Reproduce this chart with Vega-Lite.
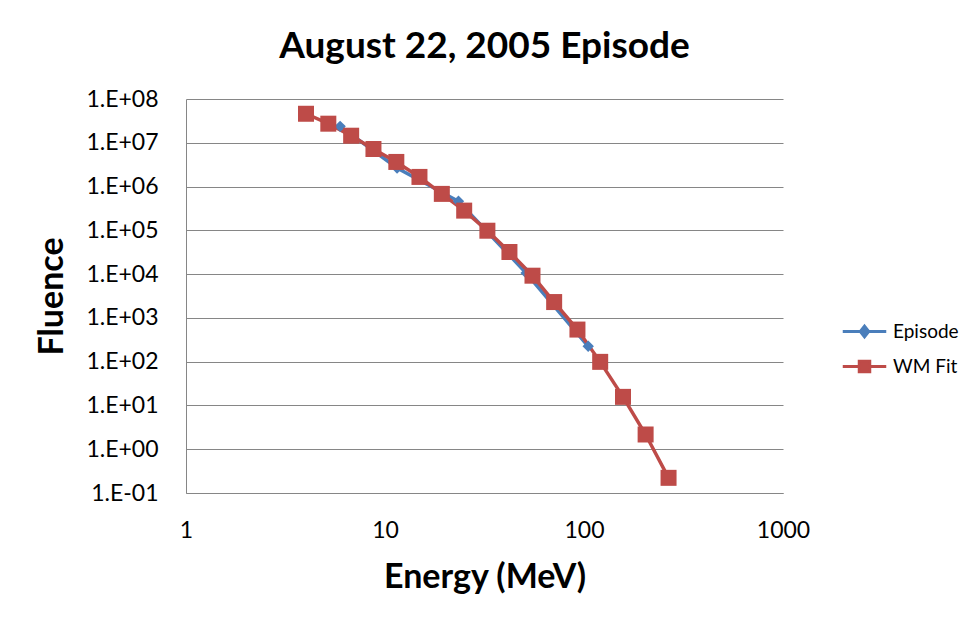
{
  "$schema": "https://vega.github.io/schema/vega-lite/v6.json",
  "width": 597,
  "height": 394,
  "autosize": {"type": "none"},
  "padding": {"left": 186, "top": 99, "right": 194, "bottom": 134},
  "background": "white",
  "title": {
    "text": "August 22, 2005 Episode",
    "font": "Lato",
    "fontSize": 37,
    "fontWeight": "bold",
    "color": "black",
    "anchor": "middle",
    "offset": 22
  },
  "config": {
    "view": {"stroke": null},
    "font": "Lato"
  },
  "data": {
    "values": [
      {"series": "Episode", "energy": 5.95, "fluence": 23700000},
      {"series": "Episode", "energy": 11.5, "fluence": 2660000},
      {"series": "Episode", "energy": 23.4, "fluence": 460000},
      {"series": "Episode", "energy": 51.2, "fluence": 10600},
      {"series": "Episode", "energy": 105, "fluence": 225},
      {"series": "WM Fit", "energy": 4.01, "fluence": 46000000},
      {"series": "WM Fit", "energy": 5.19, "fluence": 27300000},
      {"series": "WM Fit", "energy": 6.76, "fluence": 14500000},
      {"series": "WM Fit", "energy": 8.75, "fluence": 7200000},
      {"series": "WM Fit", "energy": 11.4, "fluence": 3650000},
      {"series": "WM Fit", "energy": 14.9, "fluence": 1660000},
      {"series": "WM Fit", "energy": 19.3, "fluence": 680000},
      {"series": "WM Fit", "energy": 25.0, "fluence": 282000},
      {"series": "WM Fit", "energy": 32.7, "fluence": 98000},
      {"series": "WM Fit", "energy": 42.2, "fluence": 32000},
      {"series": "WM Fit", "energy": 55.1, "fluence": 9200},
      {"series": "WM Fit", "energy": 70.8, "fluence": 2300},
      {"series": "WM Fit", "energy": 92.7, "fluence": 541},
      {"series": "WM Fit", "energy": 120.6, "fluence": 99},
      {"series": "WM Fit", "energy": 157, "fluence": 15.7},
      {"series": "WM Fit", "energy": 204, "fluence": 2.17},
      {"series": "WM Fit", "energy": 266, "fluence": 0.222}
    ]
  },
  "encoding": {
    "x": {
      "field": "energy",
      "type": "quantitative",
      "title": "Energy (MeV)",
      "scale": {"type": "log", "domain": [1, 1000], "nice": false},
      "axis": {
        "values": [1, 10, 100, 1000],
        "format": "d",
        "grid": false,
        "ticks": false,
        "domainColor": "#868686",
        "labelFont": "Lato",
        "labelFontSize": 23,
        "labelColor": "black",
        "labelPadding": 26,
        "labelFlush": false,
        "titleFont": "Lato",
        "titleFontSize": 34,
        "titleFontWeight": "bold",
        "titleColor": "black",
        "titlePadding": 18
      }
    },
    "y": {
      "field": "fluence",
      "type": "quantitative",
      "title": "Fluence",
      "scale": {"type": "log", "domain": [0.1, 100000000], "nice": false},
      "axis": {
        "values": [0.1, 1, 10, 100, 1000, 10000, 100000, 1000000, 10000000, 100000000],
        "labelExpr": "'1.E' + (round(log(datum.value) / LN10) < 0 ? '-' : '+') + '0' + abs(round(log(datum.value) / LN10))",
        "grid": true,
        "gridColor": "#868686",
        "ticks": false,
        "domainColor": "#868686",
        "labelFont": "Lato",
        "labelFontSize": 23,
        "labelColor": "black",
        "labelPadding": 28,
        "labelFlush": false,
        "titleFont": "Lato",
        "titleFontSize": 34,
        "titleFontWeight": "bold",
        "titleColor": "black",
        "titlePadding": 16
      }
    },
    "color": {
      "field": "series",
      "type": "nominal",
      "scale": {"domain": ["Episode", "WM Fit"], "range": ["#4A7EBB", "#BE4B48"]},
      "legend": {
        "title": null,
        "orient": "none",
        "legendX": 662,
        "legendY": 216,
        "symbolSize": 900,
        "symbolStrokeWidth": 3,
        "labelOffset": 12,
        "rowPadding": 7,
        "labelFont": "Lato",
        "labelFontSize": 19,
        "labelColor": "black",
        "encode": {
          "symbols": {
            "update": {
              "shape": {"signal": "datum.value === 'Episode' ? 'M-1.45,0L1.45,0M0,-0.36L0.28,0L0,0.36L-0.28,0Z' : 'M-1.45,0L1.45,0M-0.35,-0.35L0.35,-0.35L0.35,0.35L-0.35,0.35Z'"},
              "fill": {"signal": "datum.value === 'Episode' ? '#4A7EBB' : '#BE4B48'"},
              "stroke": {"signal": "datum.value === 'Episode' ? '#4A7EBB' : '#BE4B48'"},
              "strokeWidth": {"value": 3},
              "opacity": {"value": 1}
            }
          }
        }
      }
    }
  },
  "layer": [
    {
      "mark": {"type": "line", "strokeWidth": 3.5},
      "encoding": {"detail": {"field": "series"}}
    },
    {
      "transform": [{"filter": "datum.series === 'Episode'"}],
      "mark": {"type": "point", "filled": true, "opacity": 1, "shape": "diamond", "size": 130}
    },
    {
      "transform": [{"filter": "datum.series === 'WM Fit'"}],
      "mark": {"type": "point", "filled": true, "opacity": 1, "shape": "square", "size": 256}
    }
  ]
}
